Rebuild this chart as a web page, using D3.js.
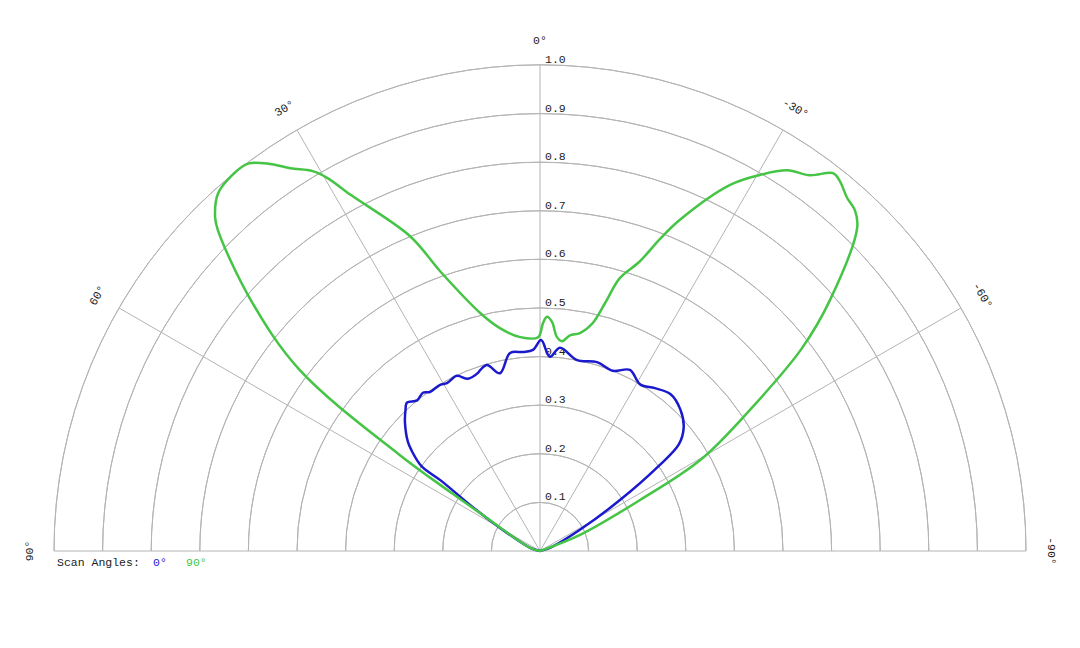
<html lang="en">
<head>
<script src="https://cdn.jsdelivr.net/npm/d3@7"></script>
<style>
body{margin:0;background:#fff}
text{font-family:"Liberation Mono","DejaVu Sans Mono",monospace;fill:#222}
</style>
</head>
<body>
<div id="drawarea"></div>
<script>
// polar data: angle in degrees (positive = left of 0), relative intensity
const ringValues=[0.1,0.2,0.3,0.4,0.5,0.6,0.7,0.8,0.9,1.0]
const spokeAngles=[90,60,30,0,-30,-60,-90]
const spokeLabels=["90°","60°","30°","0°","-30°","-60°","-90°"]
const seriesNames=["0°","90°"]
const seriesColors=["#1a1acc","#45c445"]

const blueAngles=[90,73,60,56.7,54.6,54.4,52,50.5,46.5,43.8,41.9,39.2,36.5,34.7,31,29,25.4,22.7,19.2,18.3,15.9,12.7,8.6,4.9,2,-0.3,-2.9,-5.6,-11,-16.8,-22,-26.4,-31,-35.2,-39.8,-44.8,-49.3,-52.5,-54.4,-57.5,-62,-73,-90]
const blueValues=[0,0.02,0.095,0.17,0.25,0.30,0.335,0.352,0.383,0.40,0.41,0.40,0.405,0.398,0.399,0.395,0.399,0.384,0.388,0.392,0.398,0.375,0.412,0.411,0.414,0.434,0.40,0.42,0.40,0.406,0.40,0.416,0.40,0.41,0.42,0.41,0.39,0.36,0.30,0.195,0.093,0.02,0]

const greenAngles=[90,73,57.7,56.7,55.6,53,49,45.1,44.2,42,39.1,37,34.9,33.1,30.9,29.7,28,22.4,19.6,14.1,10.2,5.3,0.5,-0.75,-1.7,-3,-4.5,-6,-7.9,-10.4,-13,-14.7,-16.3,-19,-21.1,-22.9,-27.4,-30.3,-33,-35.7,-37.8,-39,-41,-42.7,-44.4,-49.1,-52.3,-56.1,-60.4,-63,-68,-90]
const greenValues=[0,0.02,0.146,0.22,0.35,0.62,0.79,0.936,0.959,0.99,1.0,0.998,0.971,0.94,0.911,0.884,0.83,0.70,0.61,0.505,0.466,0.442,0.44,0.469,0.482,0.472,0.442,0.434,0.448,0.456,0.481,0.527,0.585,0.63,0.69,0.74,0.848,0.896,0.934,0.952,0.984,0.98,0.963,0.955,0.933,0.79,0.68,0.52,0.38,0.23,0.09,0]

const W=1080,H=648,cx=540,cy=551,R=486
const rad=d=>d*Math.PI/180

const svg=d3.select("#drawarea").append("svg").attr("width",W).attr("height",H)
const r=d3.scaleLinear().domain([0,1]).range([0,R])
const g=svg.append("g").attr("transform","translate("+cx+","+cy+")")

// rings (upper half circles)
const arc=d3.arc().startAngle(-Math.PI/2).endAngle(Math.PI/2)
g.append("g").selectAll("path").data(ringValues).enter().append("path")
 .attr("d",d=>arc({innerRadius:r(d),outerRadius:r(d)}))
 .style("fill","none").style("stroke","#b4b4b4").style("stroke-width",1)

// spokes
g.append("g").selectAll("line").data(spokeAngles).enter().append("line")
 .attr("x1",0).attr("y1",0)
 .attr("x2",d=>-r(1)*Math.sin(rad(d))).attr("y2",d=>-r(1)*Math.cos(rad(d)))
 .style("stroke","#b4b4b4").style("stroke-width",1)

// ring labels
g.append("g").selectAll("text").data(ringValues).enter().append("text")
 .attr("x",5).attr("y",d=>-r(d)-2)
 .style("font-size","11.5px")
 .text(d=>d.toFixed(1))

// angle labels
const labR=511
g.append("g").selectAll("text").data(spokeAngles).enter().append("text")
 .attr("transform",d=>"translate("+(-labR*Math.sin(rad(d)))+","+(-labR*Math.cos(rad(d)))+") rotate("+(-d)+")")
 .attr("text-anchor","middle").attr("dominant-baseline","central")
 .style("font-size","11.5px")
 .text((d,i)=>spokeLabels[i])

// curves
const line=d3.lineRadial().angle(d=>-rad(d[0])).radius(d=>r(d[1])).curve(d3.curveCatmullRom)
const series=[d3.zip(blueAngles,blueValues),d3.zip(greenAngles,greenValues)]
g.append("g").selectAll("path").data(series).enter().append("path")
 .attr("d",line)
 .style("fill","none").style("stroke",(d,i)=>seriesColors[i]).style("stroke-width",2.5).style("stroke-linejoin","round")

// legend
const leg=svg.append("g").style("font-size","11.5px")
leg.append("text").attr("x",57).attr("y",566).text("Scan Angles:")
leg.selectAll(".key").data(seriesNames).enter().append("text").attr("class","key")
 .attr("x",(d,i)=>[153,186][i]).attr("y",566)
 .style("fill",(d,i)=>seriesColors[i]).text(d=>d)
</script>
</body>
</html>
